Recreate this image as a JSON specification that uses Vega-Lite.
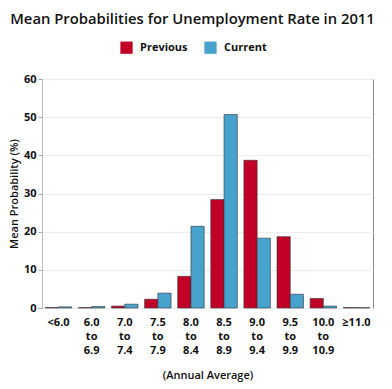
{
  "$schema": "https://vega.github.io/schema/vega-lite/v6.json",
  "autosize": "none",
  "width": 331,
  "height": 229,
  "padding": {"left": 42, "top": 79, "right": 19, "bottom": 81},
  "background": "white",
  "title": {
    "text": "Mean Probabilities for Unemployment Rate in 2011",
    "font": "Open Sans",
    "fontSize": 14.8,
    "fontWeight": 600,
    "color": "#111",
    "anchor": "middle",
    "dx": -15,
    "offset": 14
  },
  "data": {
    "values": [
      {"range": "<6.0", "series": "Previous", "value": 0.1},
      {"range": "<6.0", "series": "Current", "value": 0.3},
      {"range": "6.0|to|6.9", "series": "Previous", "value": 0.1},
      {"range": "6.0|to|6.9", "series": "Current", "value": 0.4},
      {"range": "7.0|to|7.4", "series": "Previous", "value": 0.5},
      {"range": "7.0|to|7.4", "series": "Current", "value": 1.0},
      {"range": "7.5|to|7.9", "series": "Previous", "value": 2.3},
      {"range": "7.5|to|7.9", "series": "Current", "value": 3.9},
      {"range": "8.0|to|8.4", "series": "Previous", "value": 8.3},
      {"range": "8.0|to|8.4", "series": "Current", "value": 21.4},
      {"range": "8.5|to|8.9", "series": "Previous", "value": 28.4},
      {"range": "8.5|to|8.9", "series": "Current", "value": 50.7},
      {"range": "9.0|to|9.4", "series": "Previous", "value": 38.7},
      {"range": "9.0|to|9.4", "series": "Current", "value": 18.3},
      {"range": "9.5|to|9.9", "series": "Previous", "value": 18.7},
      {"range": "9.5|to|9.9", "series": "Current", "value": 3.6},
      {"range": "10.0|to|10.9", "series": "Previous", "value": 2.5},
      {"range": "10.0|to|10.9", "series": "Current", "value": 0.5},
      {"range": "≥11.0", "series": "Previous", "value": 0.1},
      {"range": "≥11.0", "series": "Current", "value": 0.1}
    ]
  },
  "mark": {"type": "bar", "stroke": "#333", "strokeWidth": 0.6},
  "encoding": {
    "x": {
      "field": "range",
      "type": "nominal",
      "sort": null,
      "scale": {"paddingInner": 0.2, "paddingOuter": 0.1},
      "axis": {
        "title": "(Annual Average)",
        "titleFont": "Open Sans",
        "titleFontSize": 11,
        "titleFontWeight": 600,
        "titleColor": "#111",
        "titlePadding": 14,
        "labelAngle": 0,
        "labelExpr": "split(datum.label, '|')",
        "labelFont": "Open Sans",
        "labelFontSize": 11,
        "labelFontWeight": 700,
        "labelColor": "#111",
        "labelLineHeight": 14,
        "labelPadding": 8,
        "ticks": false,
        "domain": false
      }
    },
    "xOffset": {"field": "series", "type": "nominal", "sort": ["Previous", "Current"]},
    "y": {
      "field": "value",
      "type": "quantitative",
      "scale": {"domain": [0, 60]},
      "axis": {
        "title": "Mean Probability (%)",
        "titleFont": "Open Sans",
        "titleFontSize": 11,
        "titleFontWeight": 600,
        "titleColor": "#111",
        "titlePadding": 4,
        "values": [0, 10, 20, 30, 40, 50, 60],
        "labelFont": "Open Sans",
        "labelFontSize": 11,
        "labelFontWeight": 700,
        "labelColor": "#111",
        "tickColor": "#aaa",
        "tickSize": 4,
        "domainColor": "#bbb",
        "gridColor": "#ececec"
      }
    },
    "color": {
      "field": "series",
      "type": "nominal",
      "sort": ["Previous", "Current"],
      "scale": {"domain": ["Previous", "Current"], "range": ["#c10027", "#47a3cd"]},
      "legend": {
        "title": null,
        "orient": "none",
        "direction": "horizontal",
        "legendX": 78,
        "legendY": -38,
        "symbolType": "square",
        "symbolSize": 150,
        "symbolStrokeWidth": 0,
        "labelFont": "Open Sans",
        "labelFontSize": 11,
        "labelFontWeight": 700,
        "labelColor": "#111",
        "labelOffset": 7,
        "columnPadding": 16
      }
    }
  },
  "config": {
    "view": {"stroke": "#888", "strokeWidth": 1}
  }
}
